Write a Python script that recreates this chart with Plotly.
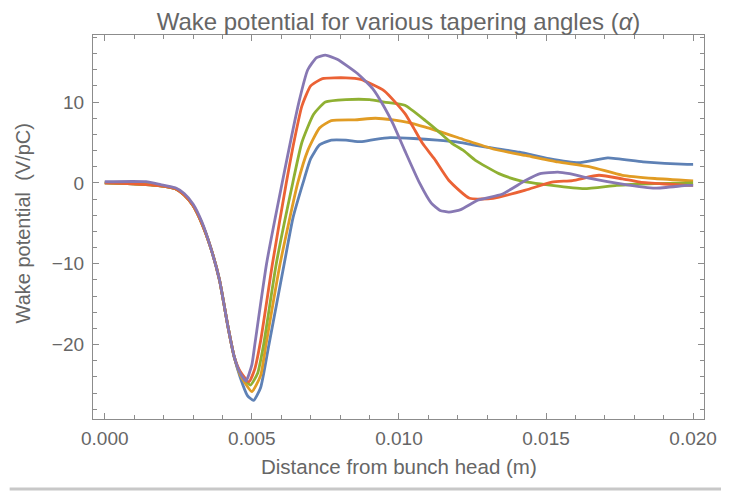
import plotly.graph_objects as go

# ---- data ----
x_blue = [0, 0.0014, 0.0019, 0.0024, 0.0027, 0.0030, 0.0033, 0.0036, 0.0039, 0.0042, 0.0044, 0.0046,
          0.00485, 0.00506, 0.0053, 0.00558, 0.0061, 0.0064, 0.00674, 0.0070, 0.0073, 0.0077, 0.0082,
          0.0087, 0.0092, 0.0097, 0.0105, 0.0113, 0.0119, 0.0126, 0.0141, 0.0151, 0.0161, 0.0171,
          0.0183, 0.0198, 0.0200]
y_blue = [0, -0.2, -0.35, -0.7, -1.5, -2.8, -5.0, -8.0, -12.0, -18.0, -21.5, -24.0,
          -26.3, -26.9, -25.3, -20.0, -10.0, -4.3, 0, 3.0, 4.7, 5.3, 5.3,
          5.1, 5.4, 5.6, 5.5, 5.3, 5.1, 4.65, 3.8, 3.0, 2.5, 3.1,
          2.6, 2.3, 2.3]

x_orange = [0, 0.0014, 0.0019, 0.0024, 0.0027, 0.0030, 0.0033, 0.0036, 0.0039, 0.0042, 0.0044, 0.0046,
            0.0050, 0.0053, 0.00548, 0.00596, 0.00656, 0.0069, 0.0073, 0.0077, 0.0085, 0.0092, 0.0098,
            0.0103, 0.0109, 0.0121, 0.0132, 0.0143, 0.0154, 0.0165, 0.0176, 0.0187, 0.0200]
y_orange = [0, -0.2, -0.35, -0.7, -1.5, -2.8, -5.0, -8.0, -12.0, -18.0, -21.5, -23.7,
            -25.8, -23.8, -20.0, -10.0, 0, 4.0, 6.8, 7.7, 7.8, 8.0, 7.8,
            7.5, 6.9, 5.5, 4.2, 3.4, 2.6, 2.0, 0.95, 0.55, 0.25]

x_green = [0, 0.0014, 0.0019, 0.0024, 0.0027, 0.0030, 0.0033, 0.0036, 0.0039, 0.0042, 0.0044, 0.0046,
           0.00495, 0.0052, 0.0054, 0.00583, 0.00639, 0.0067, 0.0071, 0.0075, 0.0082, 0.0090, 0.0095,
           0.0102, 0.0109, 0.0113, 0.0118, 0.0122, 0.0126, 0.0134, 0.0141, 0.0152, 0.0163, 0.0174,
           0.0185, 0.0200]
y_green = [0, -0.2, -0.35, -0.7, -1.5, -2.8, -5.0, -8.0, -12.0, -18.0, -21.5, -23.5,
           -25.0, -23.5, -20.0, -10.0, 0, 5.0, 8.5, 10.0, 10.3, 10.3, 10.0,
           9.6, 7.7, 6.5, 4.9, 4.0, 2.8, 1.15, 0.3, -0.3, -0.7, -0.3,
           -0.1, 0]

x_red = [0, 0.0014, 0.0019, 0.0024, 0.0027, 0.0030, 0.0033, 0.0036, 0.0039, 0.0042, 0.0044, 0.0046,
         0.0049, 0.0051, 0.0053, 0.0057, 0.00617, 0.0064, 0.0067, 0.0070, 0.0074, 0.0082, 0.0087,
         0.0095, 0.0102, 0.0105, 0.0108, 0.0112, 0.0117, 0.0124, 0.0132, 0.0143, 0.0152, 0.0159,
         0.0168, 0.0176, 0.0182, 0.0198, 0.0200]
y_red = [0, -0.2, -0.35, -0.7, -1.5, -2.8, -5.0, -8.0, -12.0, -18.0, -21.5, -23.3,
         -24.6, -23.0, -19.5, -10.0, 0, 4.5, 9.5, 12.0, 12.9, 13.0, 12.8,
         11.4, 8.6, 6.8, 4.9, 3.0, 0.3, -1.9, -1.9, -0.9, 0.1, 0.3,
         0.95, 0.5, 0.1, -0.3, -0.3]

x_purple = [0, 0.0014, 0.0019, 0.0024, 0.0027, 0.0030, 0.0033, 0.0036, 0.0039, 0.0042, 0.0044, 0.0046,
            0.0048, 0.0050, 0.0051, 0.0055, 0.00603, 0.0066, 0.0069, 0.0072, 0.0075, 0.0079, 0.0086,
            0.0091, 0.0095, 0.0098, 0.0102, 0.0107, 0.0111, 0.0114, 0.0117, 0.0121, 0.0127, 0.0135,
            0.0143, 0.0148, 0.0154, 0.0158, 0.0165, 0.0176, 0.0187, 0.0198, 0.0200]
y_purple = [0.15, 0.15, -0.2, -0.6, -1.3, -2.6, -4.8, -8.0, -12.0, -18.0, -21.5, -23.5,
            -24.5, -22.5, -20.0, -10.0, 0, 10.0, 14.0, 15.5, 15.8, 15.3, 13.5,
            11.7, 9.4, 7.3, 4.0, 0, -2.5, -3.4, -3.6, -3.3, -2.1, -1.4,
            0.3, 1.15, 1.35, 1.15, 0.55, -0.15, -0.65, -0.3, -0.3]

series = [
    ("blue", x_blue, y_blue, "#5E81B5"),
    ("orange", x_orange, y_orange, "#E19C24"),
    ("green", x_green, y_green, "#8FB032"),
    ("red", x_red, y_red, "#EB6235"),
    ("purple", x_purple, y_purple, "#8778B3"),
]

x_ticks = [0.0, 0.005, 0.010, 0.015, 0.020]
y_ticks = [-20, -10, 0, 10]

title_text = "Wake potential for various tapering angles (<i>α</i>)"
x_label = "Distance from bunch head (m)"
y_label = "Wake potential  (V/pC)"

FONT = "Liberation Sans, Arial, sans-serif"
TXT = "#666666"

fig = go.Figure()
for name, xs, ys, col in series:
    fig.add_trace(go.Scatter(x=xs, y=ys, mode="lines", name=name,
                             line=dict(color=col, width=2.8, shape="spline", smoothing=0.5),
                             showlegend=False, hoverinfo="skip"))

axis_common = dict(
    showline=True, linecolor="#8c8c8c", linewidth=1.2, mirror="ticks",
    ticks="inside", ticklen=6, tickwidth=1, tickcolor="#8c8c8c",
    showgrid=False, zeroline=False,
    tickfont=dict(family=FONT, size=19, color=TXT),
)

fig.update_xaxes(
    range=[-0.0004, 0.02037], tickvals=x_ticks, tickformat=".3f",
    minor=dict(ticks="inside", ticklen=3.5, dtick=0.001, tick0=0, tickcolor="#8c8c8c", showgrid=False),
    ticklabelstandoff=2,
    **axis_common,
)
fig.update_yaxes(
    range=[-29.2, 18.3], tickvals=y_ticks,
    minor=dict(ticks="inside", ticklen=3.5, dtick=2, tick0=0, tickcolor="#8c8c8c", showgrid=False),
    ticklabelstandoff=4,
    **axis_common,
)

fig.add_hline(y=0, line=dict(color="#555555", width=1.2), layer="below")

fig.update_layout(
    width=721, height=485,
    margin=dict(l=85, r=13, t=27, b=74),
    paper_bgcolor="white", plot_bgcolor="white",
    title=dict(text=title_text, x=0.5, xref="paper", xanchor="center",
               y=0.972, yref="container", yanchor="middle",
               font=dict(family=FONT, size=24, color=TXT)),
    annotations=[
        dict(text=x_label, xref="paper", yref="paper", x=0.5, y=-0.124, xanchor="center", yanchor="middle",
             showarrow=False, font=dict(family=FONT, size=20.5, color=TXT)),
        dict(text=y_label, xref="paper", yref="paper", x=-0.114, y=0.51, xanchor="center", yanchor="middle",
             textangle=-90, showarrow=False, font=dict(family=FONT, size=20, color=TXT)),
    ],
    shapes=[dict(type="line", xref="paper", yref="paper", x0=-0.1364, x1=1.03, y0=-0.182, y1=-0.182,
                 line=dict(color="#c8c8c8", width=3))],
)

fig.write_html("out.html")
